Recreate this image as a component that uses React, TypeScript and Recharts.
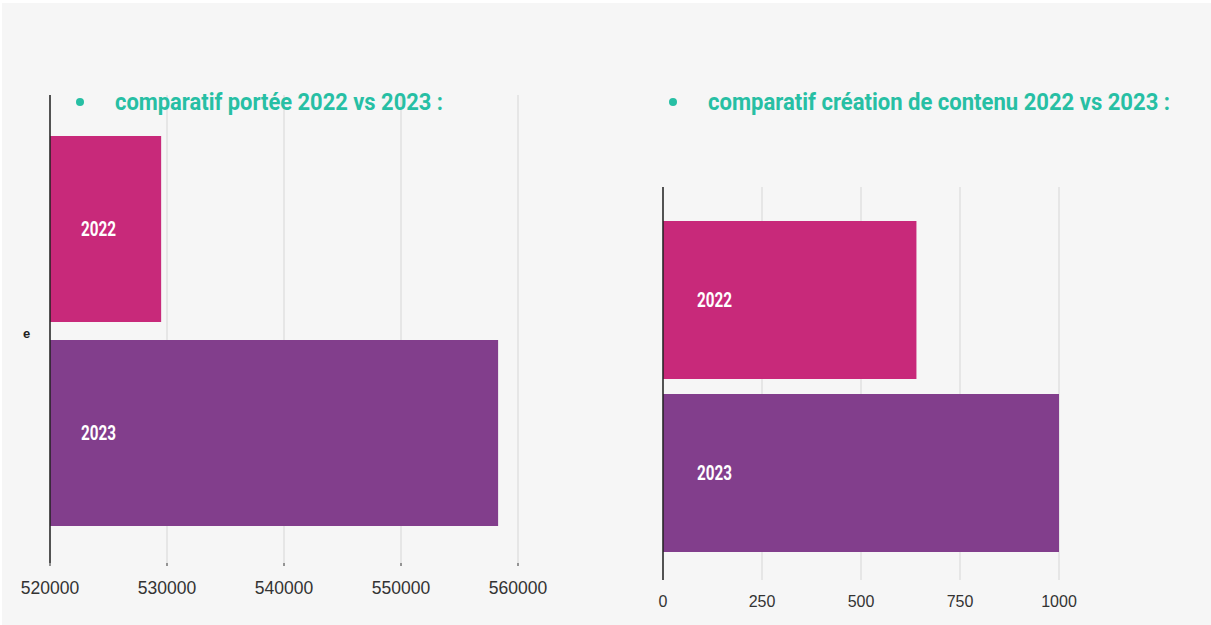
import React from 'react'
import { Bar, BarChart, CartesianGrid, Cell, LabelList, XAxis, YAxis } from 'recharts'

// years shown as bar labels
const years = ['2022', '2023']
const barColors = ['#c8297a', '#823e8c']

// portée (reach) values
const reachValues = [529500, 558300]
const reachTicks = [520000, 530000, 540000, 550000, 560000]

// création de contenu values
const contentValues = [640, 1000]
const contentTicks = [0, 250, 500, 750, 1000]

const titleLeft = 'comparatif portée 2022 vs 2023 :'
const titleRight = 'comparatif création de contenu 2022 vs 2023 :'

const reachData = years.map((name, i) => ({ name, value: reachValues[i] }))
const contentData = years.map((name, i) => ({ name, value: contentValues[i] }))

const TEAL = '#27bfa4'
const CONDENSED = 'Roboto, "Liberation Sans", sans-serif'

const makeTick = (fontSize: number, dy: number) => (props: any) => {
  const { x, y, payload } = props
  return (
    <text
      x={x}
      y={y + dy}
      textAnchor="middle"
      fill="#333"
      fontSize={fontSize}
      fontFamily="'Liberation Sans', Arial, sans-serif"
    >
      {payload.value}
    </text>
  )
}

// roboto squeezed horizontally to look like the condensed face of the original
const makeBarLabel = (inset: number) => (props: any) => {
  const { x, y, height, value } = props
  return (
    <text
      x={x + inset}
      y={y + height / 2 + 7}
      fill="#fff"
      fontSize={20}
      fontWeight="bold"
      fontFamily={CONDENSED}
      textLength={35}
      lengthAdjust="spacingAndGlyphs"
    >
      {value}
    </text>
  )
}

const Title = ({ left, text, width }: { left: number; text: string; width: number }) => (
  <svg
    style={{ position: 'absolute', left, top: 84, overflow: 'visible' }}
    width={width + 40}
    height={36}
  >
    <circle cx={4} cy={18} r={4} fill={TEAL} />
    <text
      x={39}
      y={26}
      fill={TEAL}
      fontSize={23}
      fontWeight="bold"
      fontFamily={CONDENSED}
      textLength={width}
      lengthAdjust="spacingAndGlyphs"
    >
      {text}
    </text>
  </svg>
)

export default function App() {
  return (
    <div style={{ position: 'absolute', left: 0, top: 0, width: 1211, height: 625, background: '#fff', overflow: 'hidden' }}>
      <div style={{ position: 'absolute', left: 2, top: 3, width: 1209, height: 622, background: '#f6f6f6' }} />

      {/* left chart: portée */}
      <div style={{ position: 'absolute', left: 21, top: 0 }}>
        <BarChart
          width={540}
          height={620}
          data={reachData}
          layout="vertical"
          margin={{ top: 95, right: 43, left: 0, bottom: 27 }}
          barCategoryGap={9}
        >
          <CartesianGrid horizontal={false} vertical stroke="#d6d6d6" />
          <XAxis
            type="number"
            domain={[520000, 560000]}
            ticks={reachTicks}
            allowDataOverflow
            axisLine={false}
            tickLine={{ stroke: '#333' }}
            tickSize={3}
            height={30}
            tick={makeTick(17.5, 26)}
            interval={0}
          />
          <YAxis
            type="category"
            dataKey="name"
            width={29}
            tick={false}
            tickLine={false}
            axisLine={{ stroke: '#222', strokeWidth: 1.5 }}
            padding={{ top: 32, bottom: 28 }}
          />
          <Bar dataKey="value" isAnimationActive={false}>
            {reachData.map((d, i) => (
              <Cell key={d.name} fill={barColors[i]} />
            ))}
            <LabelList dataKey="name" content={makeBarLabel(31)} />
          </Bar>
        </BarChart>
      </div>
      <span
        style={{
          position: 'absolute',
          left: 23,
          top: 326,
          fontFamily: 'Arial, sans-serif',
          fontWeight: 'bold',
          fontSize: 13,
          color: '#222',
        }}
      >
        e
      </span>

      {/* right chart: création de contenu */}
      <div style={{ position: 'absolute', left: 600, top: 0 }}>
        <BarChart
          width={500}
          height={620}
          data={contentData}
          layout="vertical"
          margin={{ top: 187, right: 41, left: 0, bottom: 10 }}
          barCategoryGap={7.5}
        >
          <CartesianGrid horizontal={false} vertical stroke="#d6d6d6" />
          <XAxis
            type="number"
            domain={[0, 1000]}
            ticks={contentTicks}
            axisLine={false}
            tickLine={false}
            height={30}
            tick={makeTick(16, 19)}
            interval={0}
          />
          <YAxis
            type="category"
            dataKey="name"
            width={63}
            tick={false}
            tickLine={false}
            axisLine={{ stroke: '#222', strokeWidth: 1.5 }}
            padding={{ top: 26.5, bottom: 20.5 }}
          />
          <Bar dataKey="value" isAnimationActive={false}>
            {contentData.map((d, i) => (
              <Cell key={d.name} fill={barColors[i]} />
            ))}
            <LabelList dataKey="name" content={makeBarLabel(34)} />
          </Bar>
        </BarChart>
      </div>

      <Title left={76} text={titleLeft} width={328} />
      <Title left={669} text={titleRight} width={462} />
    </div>
  )
}
